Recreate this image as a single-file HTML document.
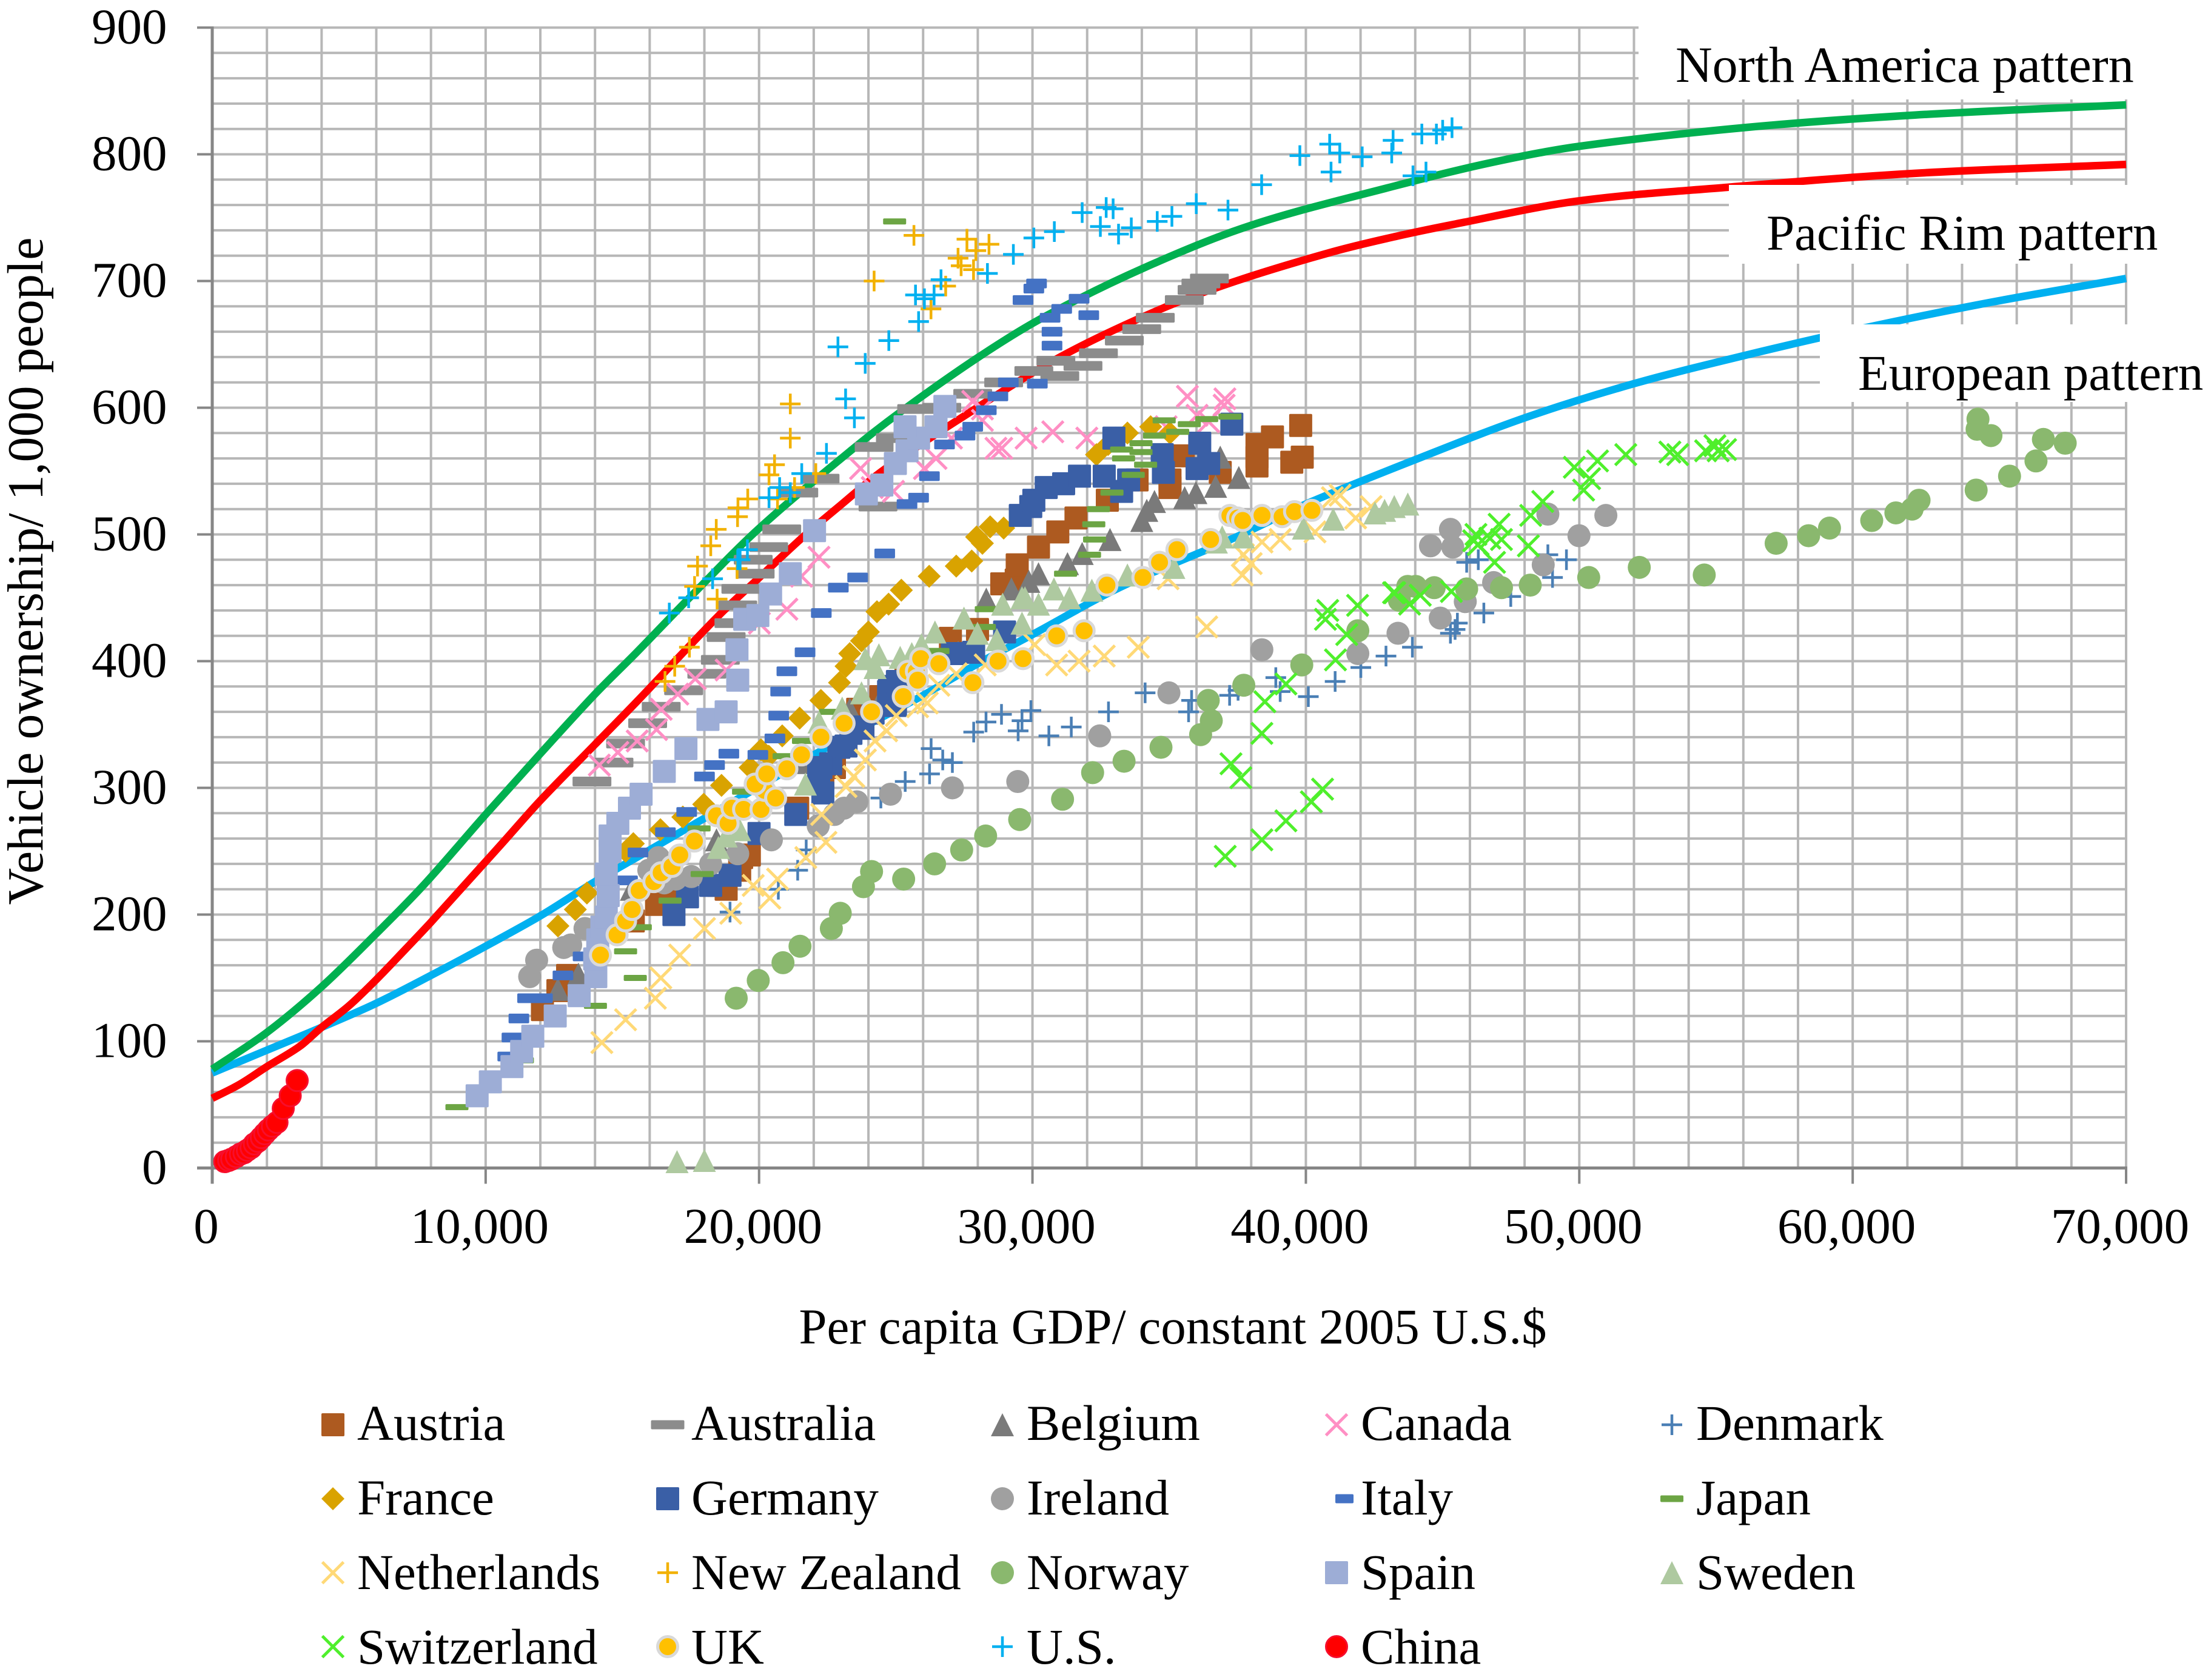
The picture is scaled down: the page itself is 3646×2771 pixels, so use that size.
<!DOCTYPE html>
<html lang="en">
<head>
<meta charset="utf-8">
<title>Vehicle ownership vs per capita GDP</title>
<style>
html,body{margin:0;padding:0;background:#fff;}
svg{display:block;}
text{font-family:"Liberation Serif","Times New Roman",serif;font-size:83px;fill:#000;}
</style>
</head>
<body>
<svg id="chart" xmlns="http://www.w3.org/2000/svg" width="3646" height="2771" viewBox="0 0 3646 2771">
<rect x="0" y="0" width="3646" height="2771" fill="#ffffff"/>
<g id="grid"></g>
<g id="axes"></g>
<g id="curves"></g>
<g id="marks"></g>
<rect x="2702" y="0" width="944" height="164" fill="#ffffff"/>
<rect x="2851" y="305" width="795" height="130" fill="#ffffff"/>
<rect x="3001" y="535" width="645" height="128" fill="#ffffff"/>
<text x="2763" y="135" style="font-size:84px">North America pattern</text>
<text x="2913" y="412">Pacific Rim pattern</text>
<text x="3064" y="643">European pattern</text>
<g id="xlabels"></g>
<g id="ylabels"></g>
<text x="1934" y="2216" text-anchor="middle">Per capita GDP/ constant 2005 U.S.$</text>
<text transform="translate(70 942) rotate(-90)" text-anchor="middle" style="font-size:84px">Vehicle ownership/ 1,000 people</text>
<g id="legend">
<text x="589" y="2375">Austria</text>
<text x="1140" y="2375">Australia</text>
<text x="1693" y="2375">Belgium</text>
<text x="2244" y="2375">Canada</text>
<text x="2797" y="2375">Denmark</text>
<text x="589" y="2498">France</text>
<text x="1140" y="2498">Germany</text>
<text x="1693" y="2498">Ireland</text>
<text x="2244" y="2498">Italy</text>
<text x="2797" y="2498">Japan</text>
<text x="589" y="2621">Netherlands</text>
<text x="1140" y="2621">New Zealand</text>
<text x="1693" y="2621">Norway</text>
<text x="2244" y="2621">Spain</text>
<text x="2797" y="2621">Sweden</text>
<text x="589" y="2744">Switzerland</text>
<text x="1140" y="2744">UK</text>
<text x="1693" y="2744">U.S.</text>
<text x="2244" y="2744">China</text>
</g>
</svg>
<script>
const xTickLabels=["0","10,000","20,000","30,000","40,000","50,000","60,000","70,000"];
const xTickValues=[0,10000,20000,30000,40000,50000,60000,70000];
const yTickLabels=["0","100","200","300","400","500","600","700","800","900"];
const yTickValues=[0,100,200,300,400,500,600,700,800,900];

const northAmericaX=[0,2000,4000,6000,7763,10000,12000,14000,15526,17500,19962,23289,25130,27960,30370,34040,38000,43250,46680,49900,56000,62280,70000];
const northAmericaY=[78,107,143,185,224,279,327,374,407,451,504,565,596,639,671,710,744,775,793,806,821,831,839];
const pacificRimX=[0,1000,2000,3200,4000,5000,6015,7037,8000,10593,12000,13987,15526,18480,19962,21660,22920,24500,27250,30925,34600,37450,40970,43250,45470,49900,55430,62280,70000];
const pacificRimY=[55,66,80,96,111,128,149,172,194,256,290,334,368,435,465,499,522,550,590,639,677,700,723,735,745,763,774,785,792];
const europeanX=[0,2000,4000,6000,8000,10000,12000,14000,16000,18000,20000,22000,24000,26000,28000,30000,33180,37450,40000,44000,48000,52000,56000,60000,65000,70000];
const europeanY=[75,93,111,130,152,175,199,226,251,276,301,326,350,373,398,421,458,498,524,559,592,619,641,661,683,702];

const austriaX=[12077,12643,12997,15401,16250,16533,16816,18513,18796,19291,19362,19645,21413,22333,22757,23606,24454,25373,26999,27990,29405,28876,29442,30220,30927,31592,32738,33827,35030,35524,35030,36868,38212,38212,38778,39810,39485,39867,38212];
const austriaY=[125,140,152,195,208,211,213,223,220,235,245,247,284,308,316,362,372,386,418,425,464,461,476,490,502,513,527,543,543,562,537,549,571,554,577,586,557,561,561];
const australiaX=[13888,14694,15118,15925,16420,17240,18089,18584,18796,19079,19220,19334,19857,19786,20352,20830,21453,22231,24350,24208,24986,25764,26684,27815,28947,30050,31000,30856,31847,32412,33360,33997,34492,35553,36020,36161,36472];
const australiaY=[305,320,335,351,364,377,390,401,419,430,444,457,469,480,490,504,533,544,522,569,576,599,600,611,620,629,625,637,633,643,653,662,671,685,693,698,702];
const belgiumX=[12643,13393,15330,18443,21484,23319,24383,27283,28311,29230,29867,30220,31281,31818,32837,33997,34181,34463,35566,35978,36698,36868,37547];
const belgiumY=[141,153,220,259,320,362,367,407,449,457,463,469,477,485,496,511,519,526,529,533,538,561,545];
const canadaX=[14157,14835,15543,16250,16420,17028,17665,18796,20012,21017,21554,22191,23713,24916,24138,26047,26472,27038,27815,28169,28664,28876,29767,30743,31988,35666,37038,37010,36020,34888,36444,28169];
const canadaY=[318,328,337,346,362,374,386,393,430,441,467,482,552,534,537,552,560,576,605,590,568,568,576,581,576,609,607,602,594,585,589,599];
const denmarkX=[18938,21413,21724,20705,24455,25345,26236,26293,26718,27071,27850,28301,28867,29476,29617,29943,30600,31420,32780,34120,35710,35820,37210,37520,38900,39060,40090,41070,42010,42930,43896,45287,45542,45457,46509,47494,49021,49530,48851,45881,46306];
const denmarkY=[202,235,251,220,292,305,311,331,322,320,344,352,358,345,353,361,341,348,360,375,360,369,373,377,387,376,372,384,395,404,411,422,430,425,438,451,466,480,484,478,480];
const franceX=[12643,13280,13704,15118,15401,16392,17212,17976,18626,19673,20070,20352,20847,21484,22262,22941,23181,23319,23747,23999,24312,24737,25204,26222,27212,27778,28169,27957,28452,28947,32342,32766,33049,33473,34322,35030];
const franceY=[191,204,217,250,256,267,277,287,302,316,330,325,341,355,369,383,396,406,416,423,439,445,456,467,475,479,493,498,506,505,563,571,576,580,585,580];
const germanyX=[16887,17382,18230,18938,19999,21342,22180,22620,22920,23360,23800,22333,22262,23181,23747,24171,24737,24770,25060,24990,27071,27849,28980,29555,29937,30050,30503,31140,31720,32625,33516,32978,33261,34746,34789,36118,36020,36444,37292];
const germanyY=[200,214,223,231,264,279,311,319,332,343,348,296,316,333,347,359,376,380,384,365,406,407,423,515,522,527,537,540,546,546,543,576,534,563,549,572,552,556,587];
const irelandX=[11610,11865,12855,13110,13633,15967,16320,16533,16957,17523,18230,19220,20451,22163,22757,23110,23578,24808,27071,29462,32460,34990,38390,41900,43370,44914,45830,46866,48681,49988,50972,48851,45287,44558,45372];
const irelandY=[151,164,174,176,189,235,245,225,228,230,240,248,259,270,279,284,289,295,300,305,341,375,409,406,422,434,447,462,476,499,515,516,504,491,490];
const italyX=[10808,10961,11215,11533,12077,12827,13563,15189,15571,16575,17353,18004,18372,18895,19956,20579,20720,20790,21017,21682,22276,22899,23606,24596,25411,25835,26231,26783,27532,27815,28311,28735,29117,30178,30715,30715,30644,32059,31069,31705,29654,30050,30149];
const italyY=[88,103,118,134,134,152,167,227,249,265,281,309,318,327,326,339,357,376,392,407,438,458,466,485,524,529,546,571,578,585,598,609,620,619,649,660,671,673,678,686,685,694,698];
const japanX=[8950,11343,14015,15472,15118,15656,16745,17919,17806,19433,20918,21625,22615,26435,26542,28240,28311,31210,32087,32271,32243,32413,32908,33685,34138,33332,33969,33261,33969,34464,35312,35737,36373,37222,34817,24958];
const japanY=[48,85,128,150,171,190,211,232,268,297,325,337,360,408,408,427,441,469,484,496,508,520,533,547,555,560,565,567,572,578,581,587,591,593,590,747];
const netherlandsX=[14250,15118,16207,16406,17099,18004,18966,20394,19786,20677,21710,22446,22290,23181,23464,23888,24242,24666,25018,26152,25799,26576,27212,28273,30080,30885,31705,32625,33870,36373,34959,37675,38000,37716,38395,39061,40335,41820,40970,41253,42385];
const netherlandsY=[99,117,134,150,168,189,201,213,223,228,245,257,279,301,309,322,337,345,357,367,364,381,390,397,413,397,400,404,411,427,465,468,477,484,494,496,502,513,529,531,522];
const newZealandX=[16561,16915,17452,17750,17641,18466,18233,18434,19213,19228,19586,20364,20566,22075,21298,20675,21142,21142,19197,24208,25665,27603,28410,27929,27278,27391,27844,26825,26288];
const newZealandY=[384,396,411,475,459,449,491,504,514,521,528,547,555,548,537,528,576,603,473,700,736,733,729,724,718,712,709,696,678];
const norwayX=[19164,19970,20875,21498,22644,22970,23818,24115,25288,26420,27410,28287,29532,31100,32200,33350,34700,36150,36540,36430,37730,39850,41900,43726,44015,44693,43421,45881,47154,48206,50345,52194,54570,57200,58388,59152,60696,61580,62173,62427,64515,65737,66704,66975,67773,64582,64550,65057];
const norwayY=[134,148,162,175,189,201,222,234,228,240,251,262,275,291,312,321,332,342,353,369,381,397,424,459,459,458,448,457,458,460,466,474,468,493,499,505,511,517,520,527,535,546,558,575,572,591,583,578];
const spainX=[9688,10171,10961,11317,11724,12544,13421,14029,13987,14100,14250,14411,14482,14411,14552,14552,14835,15260,15685,16533,17325,18131,18796,19220,19192,19475,19956,20422,21144,22029,23925,24491,24986,25411,25835,26472,25340,26797];
const spainY=[57,68,80,92,104,120,136,151,165,180,190,198,215,232,250,262,272,284,295,313,331,354,360,385,409,433,436,453,469,503,532,539,556,566,576,585,585,601];
const swedenX=[17000,18000,18513,18796,19291,21696,22191,23040,23747,23889,24242,24383,25161,25586,25940,26434,27495,27990,28909,28698,29617,29617,29725,30220,30786,31352,32172,33473,35172,36727,36939,37716,39910,41000,42526,42880,43233,43728];
const swedenY=[5,6,253,262,267,303,352,363,375,402,395,405,403,406,413,423,434,422,445,417,450,430,450,445,457,450,456,468,474,494,498,498,505,512,517,519,522,524];
const switzerlandX=[49818,50667,51700,53314,53600,54621,54960,55080,55350,50378,50158,48664,48223,48138,46900,47069,47154,46220,46136,46300,46730,45321,44184,43794,43251,40800,40715,41890,41494,41083,43205,37050,38390,39270,40200,40610,37260,37620,38390,38500,39270];
const switzerlandY=[553,558,563,565,563,566,570,566,567,544,535,526,515,491,478,508,496,500,495,492,497,455,452,445,454,440,433,444,421,401,454,246,259,274,289,299,319,308,343,368,382];
const ukX=[14199,14807,15118,15359,15614,16151,16420,16816,17099,17636,18442,18867,19008,19433,20069,20210,20606,19857,20281,21017,21554,22262,23110,24115,25275,25444,25755,25799,25911,26576,27821,28740,29654,30885,31889,32724,34039,34647,35284,36515,37222,37505,37688,38396,39131,39584,40221];
const ukY=[168,184,195,204,219,226,233,238,247,258,278,272,284,283,283,298,292,303,311,315,326,340,351,360,372,392,392,385,402,398,383,400,402,420,424,460,466,478,488,496,515,513,511,515,514,518,519];
const usX=[16717,17424,18301,19220,19574,19306,20364,20752,21142,21561,22465,22885,23165,23487,23883,24746,25835,25722,26655,26047,26401,28353,29301,30050,30800,31818,32696,32950,32483,33148,33615,34563,35100,35991,37151,38382,39780,40870,40920,41240,42060,43140,43190,43917,44393,44241,44774,45003,45345];
const usY=[438,450,465,480,488,480,529,537,533,548,564,648,607,592,635,653,668,689,701,686,689,706,721,734,739,754,758,757,743,737,742,747,751,761,756,776,799,808,786,801,798,801,811,783,786,816,816,819,821];
const chinaX=[458,600,713,880,1031,1160,1286,1420,1540,1670,1795,1920,2050,2200,2368,2597,2852,3106];
const chinaY=[5,6,7,9,11,12,14,16,19,21,24,27,30,33,36,47,57,69];

const SVGNS="http://www.w3.org/2000/svg";
const X0=350,X1=3506,Y0=1926.5,Y900=45.5;
function sx(v){return X0+(X1-X0)*v/70000;}
function sy(v){return Y0-(Y0-Y900)*v/900;}
function make(tag,attrs,parent){
  const el=document.createElementNS(SVGNS,tag);
  for(const k in attrs){el.setAttribute(k,attrs[k]);}
  parent.appendChild(el);
  return el;
}

const gridG=document.getElementById("grid");
const axesG=document.getElementById("axes");
for(let v=2000;v<=70000;v+=2000){
  const el=make("line",{x1:sx(v),x2:sx(v),y1:Y900,y2:Y0,stroke:"#b7b7b7","stroke-width":4},gridG);
  
  
}
for(let v=20;v<=900;v+=20){
  const el=make("line",{x1:X0,x2:X1,y1:sy(v),y2:sy(v),stroke:"#b7b7b7","stroke-width":4},gridG);
  
  
}
const yAxisLine=make("line",{x1:X0,x2:X0,y1:Y900-2,y2:Y0+26,stroke:"#868686","stroke-width":5},axesG);


const xAxisLine=make("line",{x1:X0-25,x2:X1+2,y1:Y0,y2:Y0,stroke:"#868686","stroke-width":5},axesG);


const xl=document.getElementById("xlabels");
xTickValues.forEach(function(v,i){
  const t=make("line",{x1:sx(v),x2:sx(v),y1:Y0,y2:Y0+26,stroke:"#868686","stroke-width":4},axesG);
  
  
  const lab=make("text",{x:sx(v)-10,y:2050,"text-anchor":"middle"},xl);
  
  
  lab.textContent=xTickLabels[i];
});
const yl=document.getElementById("ylabels");
yTickValues.forEach(function(v,i){
  const t=make("line",{x1:X0-25,x2:X0,y1:sy(v),y2:sy(v),stroke:"#868686","stroke-width":4},axesG);
  
  
  const lab=make("text",{x:275.5,y:sy(v)+26,"text-anchor":"end"},yl);
  
  
  lab.textContent=yTickLabels[i];
});

function smoothPath(xs,ys){
  const p=xs.map(function(v,i){return [sx(v),sy(ys[i])];});
  const n=p.length;
  const m=p.map(function(q,i){
    const a=p[Math.max(i-1,0)],b=p[Math.min(i+1,n-1)];
    return (b[1]-a[1])/(b[0]-a[0]);
  });
  let d="M"+p[0][0]+" "+p[0][1];
  for(let i=0;i<n-1;i++){
    const h=(p[i+1][0]-p[i][0])/3;
    d+=" C"+(p[i][0]+h)+" "+(p[i][1]+m[i]*h)+" "+(p[i+1][0]-h)+" "+(p[i+1][1]-m[i+1]*h)+" "+p[i+1][0]+" "+p[i+1][1];
  }
  return d;
}
const curvesG=document.getElementById("curves");
const europeanCurve=make("path",{d:smoothPath(europeanX,europeanY),fill:"none",stroke:"#00b0f0","stroke-width":12.5},curvesG);


const northAmericaCurve=make("path",{d:smoothPath(northAmericaX,northAmericaY),fill:"none",stroke:"#00b050","stroke-width":12.5},curvesG);


const pacificRimCurve=make("path",{d:smoothPath(pacificRimX,pacificRimY),fill:"none",stroke:"#ff0000","stroke-width":12.5},curvesG);



function drawMarker(s,cx,cy,parent,legendW,legendH){
  let el;
  if(s.kind==="square"){el=make("rect",{x:cx-19,y:cy-19,width:38,height:38,rx:2,fill:s.color},parent);}
  else if(s.kind==="dash"){const w=legendW||s.w;const h=legendH||s.h;el=make("rect",{x:cx-w/2,y:cy-h/2,width:w,height:h,rx:2,fill:s.color},parent);}
  else if(s.kind==="triangle"){el=make("polygon",{points:cx+","+(cy-19)+" "+(cx+19)+","+(cy+19)+" "+(cx-19)+","+(cy+19),fill:s.color},parent);}
  else if(s.kind==="diamond"){el=make("polygon",{points:cx+","+(cy-19)+" "+(cx+19)+","+cy+" "+cx+","+(cy+19)+" "+(cx-19)+","+cy,fill:s.color},parent);}
  else if(s.kind==="circle"){el=make("circle",{cx:cx,cy:cy,r:s.stroke?19-s.sw/2:19,fill:s.color,stroke:s.stroke||"none","stroke-width":s.sw||0},parent);}
  else if(s.kind==="x"){const h=17.5;el=make("path",{d:"M"+(cx-h)+" "+(cy-h)+"L"+(cx+h)+" "+(cy+h)+"M"+(cx-h)+" "+(cy+h)+"L"+(cx+h)+" "+(cy-h),stroke:s.color,"stroke-width":5,fill:"none"},parent);}
  else {const h=17;el=make("path",{d:"M"+(cx-h)+" "+cy+"L"+(cx+h)+" "+cy+"M"+cx+" "+(cy-h)+"L"+cx+" "+(cy+h),stroke:s.color,"stroke-width":4.5,fill:"none"},parent);}
  return el;
}
const seriesList=[
 {name:"austria",xs:austriaX,ys:austriaY,kind:"square",color:"#ad5a20"},
 {name:"australia",xs:australiaX,ys:australiaY,kind:"dash",color:"#8c8c8c",w:64,h:16,lw:55,lh:15},
 {name:"belgium",xs:belgiumX,ys:belgiumY,kind:"triangle",color:"#7a7a7a"},
 {name:"canada",xs:canadaX,ys:canadaY,kind:"x",color:"#ff8fc4"},
 {name:"denmark",xs:denmarkX,ys:denmarkY,kind:"plus",color:"#4a7fb5"},
 {name:"france",xs:franceX,ys:franceY,kind:"diamond",color:"#d9a300"},
 {name:"germany",xs:germanyX,ys:germanyY,kind:"square",color:"#3a5fa6"},
 {name:"ireland",xs:irelandX,ys:irelandY,kind:"circle",color:"#a0a0a0"},
 {name:"italy",xs:italyX,ys:italyY,kind:"dash",color:"#4472c4",w:34,h:16,lw:30,lh:15,ldx:13},
 {name:"japan",xs:japanX,ys:japanY,kind:"dash",color:"#6ca544",w:38,h:10,lw:38,lh:11},
 {name:"netherlands",xs:netherlandsX,ys:netherlandsY,kind:"x",color:"#ffd977"},
 {name:"new-zealand",xs:newZealandX,ys:newZealandY,kind:"plus",color:"#f2b100"},
 {name:"norway",xs:norwayX,ys:norwayY,kind:"circle",color:"#8ab86e"},
 {name:"spain",xs:spainX,ys:spainY,kind:"square",color:"#9dadd6"},
 {name:"sweden",xs:swedenX,ys:swedenY,kind:"triangle",color:"#aec9a0"},
 {name:"switzerland",xs:switzerlandX,ys:switzerlandY,kind:"x",color:"#4fef2c"},
 {name:"uk",xs:ukX,ys:ukY,kind:"circle",color:"#ffc000",stroke:"#d9d9d9",sw:5},
 {name:"us",xs:usX,ys:usY,kind:"plus",color:"#00b0f0"},
 {name:"china",xs:chinaX,ys:chinaY,kind:"circle",color:"#ff0000",stroke:"#f70e2c",sw:3}
];
const marksG=document.getElementById("marks");
const legendG=document.getElementById("legend");
const legendColX=[549,1101,1653,2204,2757];
const legendRowY=[2350,2472,2594,2716];
seriesList.forEach(function(s,si){
  const g=make("g",{},marksG);
  
  
  const n=Math.min(s.xs.length,s.ys.length);
  for(let i=0;i<n;i++){
    const m=drawMarker(s,sx(s.xs[i]),sy(s.ys[i]),g);
    
    
  }
  const lm=drawMarker(s,legendColX[si%5]+(s.ldx||0),legendRowY[Math.floor(si/5)],legendG,s.lw,s.lh);
  
  
});
</script>
</body>
</html>
